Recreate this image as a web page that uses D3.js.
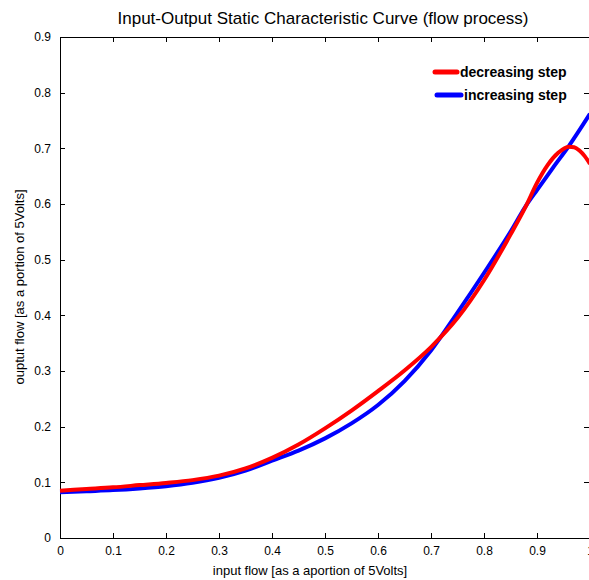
<!DOCTYPE html>
<html><head><meta charset="utf-8">
<script src="https://cdn.jsdelivr.net/npm/d3@7"></script>
<style>
body{margin:0;background:#fff;}
svg{display:block;font-family:"Liberation Sans",Arial,sans-serif;}
</style></head>
<body><svg id="c" width="589" height="580"></svg>
<script>
const title = "Input-Output Static Characteristic Curve (flow process)";
const xLabel = "input flow [as a aportion of 5Volts]";
const yLabel = "ouptut flow [as a portion of 5Volts]";
const xTicks = [0,0.1,0.2,0.3,0.4,0.5,0.6,0.7,0.8,0.9,1];
const yTicks = [0,0.1,0.2,0.3,0.4,0.5,0.6,0.7,0.8,0.9];
const seriesNames = ["decreasing step","increasing step"];
const seriesColors = ["#ff0000","#0000ff"];
const decX = [0,0.05,0.1,0.15,0.2,0.25,0.3,0.35,0.4,0.45,0.5,0.55,0.6,0.65,0.7,0.75,0.8,0.85,0.88,0.9,0.92,0.94,0.96,0.97,0.98,0.99,1.0];
const decY = [0.085,0.088,0.091,0.095,0.099,0.104,0.112,0.125,0.144,0.168,0.197,0.229,0.264,0.301,0.343,0.395,0.463,0.545,0.598,0.638,0.670,0.692,0.703,0.702,0.696,0.686,0.672];
const incX = [0,0.05,0.1,0.15,0.2,0.25,0.3,0.35,0.4,0.45,0.5,0.55,0.6,0.65,0.7,0.75,0.8,0.85,0.88,0.9,0.93,0.96,1.0];
const incY = [0.082,0.084,0.086,0.089,0.093,0.099,0.108,0.121,0.139,0.157,0.179,0.206,0.239,0.282,0.337,0.405,0.476,0.55,0.598,0.625,0.665,0.704,0.762];

const svg = d3.select("#c");
const L=60, R=590, T=37, B=538;
const x = d3.scaleLinear().domain([0,1]).range([L,R]);
const y = d3.scaleLinear().domain([0,0.9]).range([B,T]);

svg.append("rect").attr("x",L).attr("y",T).attr("width",R-L).attr("height",B-T)
  .attr("fill","none").attr("stroke","#000").attr("stroke-width",1).attr("shape-rendering","crispEdges");

const fmt = d => d===0?"0":(d===1?"1":d3.format(".1f")(d));
const ax = svg.append("g").attr("transform",`translate(0,${B})`)
  .call(d3.axisBottom(x).tickValues(xTicks).tickFormat(fmt).tickSizeInner(-5).tickSizeOuter(0).tickPadding(8));
const axTop = svg.append("g").attr("transform",`translate(0,${T})`)
  .call(d3.axisTop(x).tickValues(xTicks).tickFormat("").tickSizeInner(-5).tickSizeOuter(0));
const ay = svg.append("g").attr("transform",`translate(${L},0)`)
  .call(d3.axisLeft(y).tickValues(yTicks).tickFormat(fmt).tickSizeInner(-5).tickSizeOuter(0).tickPadding(9));
const ayR = svg.append("g").attr("transform",`translate(${R-1},0)`)
  .call(d3.axisRight(y).tickValues(yTicks).tickFormat("").tickSizeInner(-5).tickSizeOuter(0));
[ax,axTop,ay,ayR].forEach(g=>{
  g.select(".domain").remove();
  g.selectAll("line").attr("stroke","#000").attr("shape-rendering","crispEdges");
  g.selectAll("text").attr("font-family","'Liberation Sans',Arial,sans-serif").attr("font-size",12).attr("fill","#000");
});

const line = d3.line().x(d=>x(d[0])).y(d=>y(d[1])).curve(d3.curveMonotoneX);
const incData = incX.map((v,i)=>[v,incY[i]]);
const decData = decX.map((v,i)=>[v,decY[i]]);
svg.append("path").datum(incData).attr("d",line).attr("fill","none")
  .attr("stroke",seriesColors[1]).attr("stroke-width",4);
svg.append("path").datum(decData).attr("d",line).attr("fill","none")
  .attr("stroke",seriesColors[0]).attr("stroke-width",4);

const leg = [{n:seriesNames[0],c:seriesColors[0],y:72,x1:435,x2:457},{n:seriesNames[1],c:seriesColors[1],y:95,x1:437,x2:461}];
leg.forEach(d=>{
  svg.append("line").attr("x1",d.x1).attr("x2",d.x2).attr("y1",d.y).attr("y2",d.y)
    .attr("stroke",d.c).attr("stroke-width",5).attr("stroke-linecap","round");
  svg.append("text").attr("x",d.x2+3).attr("y",d.y+5).attr("font-size",14).attr("font-weight","bold")
    .attr("fill","#000").text(d.n);
});

svg.append("text").attr("x",323).attr("y",24).attr("text-anchor","middle").attr("font-size",17).text(title);
svg.append("text").attr("x",310).attr("y",575).attr("text-anchor","middle").attr("font-size",13).text(xLabel);
svg.append("text").attr("transform",`translate(24,${287}) rotate(-90)`).attr("text-anchor","middle").attr("font-size",13).text(yLabel);
</script></body></html>
